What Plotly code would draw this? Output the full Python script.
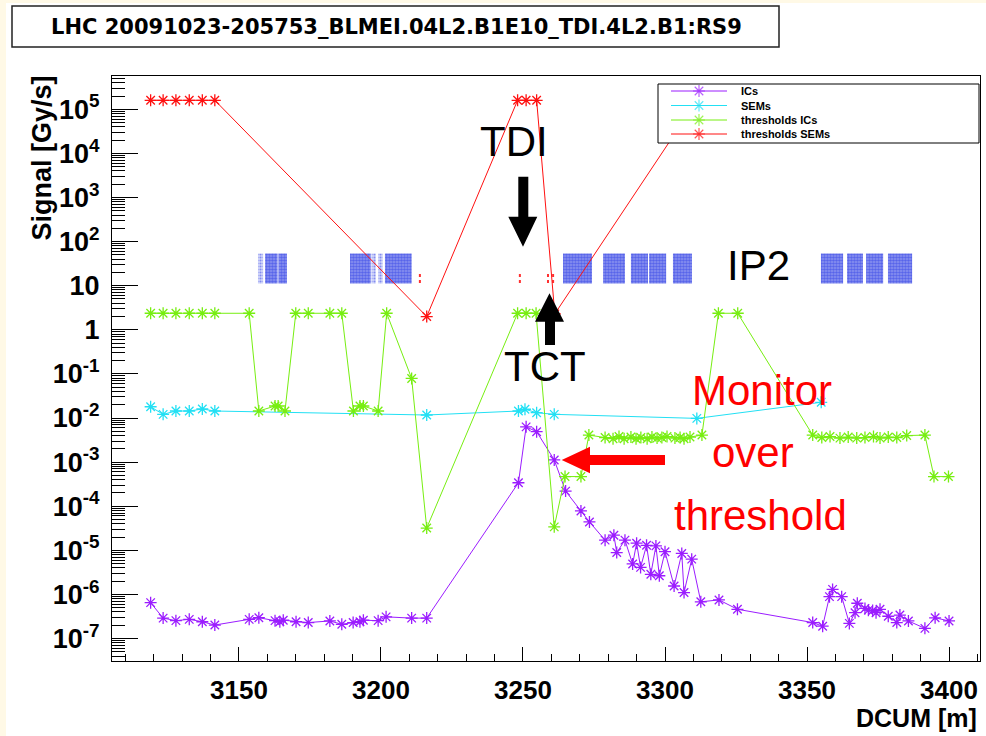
import plotly.graph_objects as go

# ---------------- data ----------------
ics_x = [3118.9, 3123.3, 3127.8, 3132.5, 3137.1, 3141.5, 3153.6, 3157.0, 3162.7, 3164.4,
         3165.6, 3170.1, 3174.4, 3182.0, 3186.2, 3190.2, 3192.6, 3193.8, 3199.0, 3201.8,
         3210.8, 3216.1, 3248.4, 3251.1, 3254.8, 3261.0, 3265.0, 3270.4, 3273.4, 3278.9,
         3282.0, 3283.0, 3285.9, 3288.6, 3290.0, 3291.4, 3293.5, 3295.0, 3296.8, 3298.0,
         3300.0, 3303.2, 3305.9, 3306.7, 3309.4, 3312.6, 3319.0, 3325.5, 3352.0, 3355.5,
         3357.9, 3359.0, 3362.2, 3364.9, 3366.9, 3367.7, 3370.4, 3371.6, 3373.1, 3374.3,
         3375.7, 3378.6, 3381.6, 3382.7, 3385.7, 3391.5, 3395.1, 3400.0]
ics_y = [6.5e-7, 2.9e-7, 2.54e-7, 2.72e-7, 2.4e-7, 2.02e-7, 2.72e-7, 2.96e-7, 2.54e-7, 2.4e-7,
         2.6e-7, 2.4e-7, 2.3e-7, 2.5e-7, 2.1e-7, 2.3e-7, 2.4e-7, 2.6e-7, 2.54e-7, 3.1e-7,
         2.9e-7, 2.9e-7, 3.4e-4, 6.3e-3, 4.9e-3, 1.12e-3, 2.2e-4, 7.8e-5, 4.4e-5, 1.7e-5,
         2.2e-5, 8.9e-6, 1.7e-5, 4.9e-6, 1.45e-5, 4.1e-6, 1.3e-5, 2.86e-6, 1.26e-5, 2.65e-6,
         9.3e-6, 1.55e-6, 8.5e-6, 1.1e-6, 6.3e-6, 6.8e-7, 7.5e-7, 4.6e-7, 2.3e-7, 1.9e-7,
         8.9e-7, 1.3e-6, 8.9e-7, 2.2e-7, 3.85e-7, 6.3e-7, 4.8e-7, 4.4e-7, 4.3e-7, 3.85e-7,
         4.6e-7, 3.2e-7, 2.3e-7, 3.4e-7, 2.5e-7, 1.7e-7, 2.95e-7, 2.5e-7]

sems_x = [3118.9, 3123.3, 3127.8, 3132.5, 3137.1, 3141.5, 3216.1, 3248.4, 3250.7, 3254.8,
          3261.0, 3311.2, 3355.0]
sems_y = [0.018, 0.0121, 0.0144, 0.0144, 0.016, 0.0144, 0.0117, 0.0144, 0.0158, 0.0132,
          0.0121, 0.0098, 0.0227]

thr_ics_x = [3118.9, 3123.3, 3127.8, 3132.5, 3137.1, 3141.5,
             3153.6, 3157.0, 3162.7, 3163.8, 3166.2,
             3170.0, 3174.4, 3182.0, 3186.2,
             3190.3, 3192.6, 3193.8, 3199.0,
             3202.0, 3210.8, 3216.1,
             3248.1, 3251.1, 3254.6,
             3261.0, 3264.8, 3270.4,
             3273.2, 3278.9, 3281.7, 3283.8, 3285.6, 3288.0, 3289.8, 3291.5, 3293.7,
             3295.4, 3297.2, 3298.9, 3300.7, 3303.5, 3305.3, 3306.7, 3308.8, 3313.0,
             3318.8, 3325.6,
             3352.0, 3355.2, 3358.1, 3361.6, 3364.5, 3367.5, 3370.4, 3373.4, 3375.7,
             3378.6, 3381.6, 3385.1, 3391.5,
             3394.7, 3399.8]
thr_ics_y = [2.37, 2.37, 2.37, 2.37, 2.37, 2.37,
             2.37, 0.0144, 0.0187, 0.0187, 0.0144,
             2.37, 2.37, 2.37, 2.37,
             0.0144, 0.0187, 0.0187, 0.0144,
             2.37, 0.079, 3.2e-5,
             2.37, 2.37, 2.37,
             3.4e-5, 4.7e-4, 4.7e-4,
             4.1e-3, 3.6e-3, 3.4e-3, 3.8e-3, 3.4e-3, 3.7e-3, 3.4e-3, 3.6e-3, 3.4e-3,
             3.7e-3, 3.5e-3, 3.6e-3, 3.8e-3, 3.5e-3, 3.6e-3, 3.4e-3, 3.7e-3, 4.1e-3,
             2.37, 2.37,
             4.1e-3, 3.6e-3, 3.8e-3, 3.5e-3, 3.7e-3, 3.5e-3, 3.6e-3, 3.8e-3, 3.5e-3,
             3.7e-3, 3.6e-3, 4.0e-3, 4.1e-3,
             4.7e-4, 4.7e-4]

thr_sems_x = [3118.9, 3123.3, 3127.8, 3132.5, 3137.1, 3141.5, 3216.1, 3248.1, 3251.1, 3254.8,
              3261.2, 3311.3, 3330.0, 3360.0, 3390.0]
thr_sems_y = [1.6e5, 1.6e5, 1.6e5, 1.6e5, 1.6e5, 1.6e5, 2.0, 1.6e5, 1.6e5, 1.6e5,
              2.3, 1.6e5, 1.6e5, 1.6e5, 1.6e5]

# element blocks drawn around IP2 (DCUM start/end, signal low/high)
block_start = [3159.2, 3163.9, 3189.1, 3201.4, 3264.1, 3278.2, 3288.0, 3294.4, 3302.8,
               3354.9, 3364.1, 3370.8, 3378.5]
block_end = [3163.6, 3166.9, 3196.4, 3210.8, 3274.3, 3285.9, 3294.0, 3300.4, 3309.5,
             3362.7, 3369.7, 3376.8, 3387.0]
light_block_start = [3156.7, 3196.7, 3199.0]
light_block_end = [3158.5, 3198.2, 3200.6]
block_low = 11.2
block_high = 54.0
red_mark_x = [3213.7, 3248.9, 3258.8, 3260.6]
red_mark_low = 11.5
red_mark_high = 21.5

x_tick_vals = [3150, 3200, 3250, 3300, 3350, 3400]
y_tick_vals = [1e-7, 1e-6, 1e-5, 1e-4, 1e-3, 1e-2, 1e-1, 1, 10, 1e2, 1e3, 1e4, 1e5]
y_tick_text = ["10<sup>-7</sup>", "10<sup>-6</sup>", "10<sup>-5</sup>", "10<sup>-4</sup>",
               "10<sup>-3</sup>", "10<sup>-2</sup>", "10<sup>-1</sup>", "1", "10",
               "10<sup>2</sup>", "10<sup>3</sup>", "10<sup>4</sup>", "10<sup>5</sup>"]
y_minor_vals = [k * 10.0 ** n for n in range(-8, 6) for k in range(2, 10)]

series_names = ["ICs", "SEMs", "thresholds ICs", "thresholds SEMs"]
series_colors = ["#9B1CFF", "#22E0F4", "#77EE11", "#FF1010"]

# ---------------- layout geometry ----------------
W, H = 986, 736
L, R, T, B = 112, 980, 76, 661


def P(px):
    return (px - L) / (R - L)


def Q(py):
    return (B - py) / (B - T)


def rect_poly(x0s, x1s, lo, hi):
    xs, ys = [], []
    for a, b in zip(x0s, x1s):
        xs += [a, b, b, a, a, None]
        ys += [lo, lo, hi, hi, lo, None]
    return xs, ys


fig = go.Figure()

bx, by = rect_poly(block_start, block_end, block_low, block_high)
fig.add_trace(go.Scatter(x=bx, y=by, mode="lines", fill="toself", line=dict(width=0),
                         fillcolor="rgba(80,90,236,0.9)",
                         fillpattern=dict(shape=".", fgcolor="#2232E4", bgcolor="#8E97F0",
                                          size=3, solidity=0.6),
                         hoverinfo="skip", showlegend=False))
lx, ly = rect_poly(light_block_start, light_block_end, block_low, block_high)
fig.add_trace(go.Scatter(x=lx, y=ly, mode="lines", fill="toself", line=dict(width=0),
                         fillcolor="rgba(70,82,235,0.4)",
                         fillpattern=dict(shape=".", fgcolor="#3040E6", bgcolor="#D4D8FA",
                                          size=3, solidity=0.4),
                         hoverinfo="skip", showlegend=False))
rx, ry = [], []
for xm in red_mark_x:
    rx += [xm, xm, None]
    ry += [red_mark_low, red_mark_high, None]
fig.add_trace(go.Scatter(x=rx, y=ry, mode="lines", line=dict(color="#FF3030", width=2, dash="dot"),
                         hoverinfo="skip", showlegend=False))

all_x = [ics_x, sems_x, thr_ics_x, thr_sems_x]
all_y = [ics_y, sems_y, thr_ics_y, thr_sems_y]
for name, c, xs, ys in zip(series_names, series_colors, all_x, all_y):
    fig.add_trace(go.Scatter(
        x=xs, y=ys, mode="lines+markers", name=name,
        line=dict(color=c, width=1),
        marker=dict(symbol="asterisk-open", size=10, color=c, line=dict(color=c, width=1.3)),
        showlegend=False))

# ---- manual legend on an overlay subplot (so its box hides the curves) ----
lg_x0, lg_x1, lg_y0, lg_y1 = P(658), P(979), Q(143), Q(84)
fig.add_trace(go.Scatter(x=[lg_x0, lg_x1, lg_x1, lg_x0, lg_x0], y=[lg_y0, lg_y0, lg_y1, lg_y1, lg_y0],
                         mode="lines", fill="toself", fillcolor="white", line=dict(color="black", width=1),
                         xaxis="x2", yaxis="y2", hoverinfo="skip", showlegend=False))
entry_py = [91, 105.5, 120, 134]
annotations = []
for name, c, py in zip(series_names, series_colors, entry_py):
    fig.add_trace(go.Scatter(x=[P(671), P(699), P(727)], y=[Q(py)] * 3, mode="lines+markers",
                             line=dict(color=c, width=1),
                             marker=dict(symbol="asterisk-open", size=[0, 10, 0], color=c,
                                         line=dict(color=c, width=1.2)),
                             xaxis="x2", yaxis="y2", hoverinfo="skip", showlegend=False))
    annotations.append(dict(x=P(739), y=Q(py), xref="paper", yref="paper", text="<b>%s</b>" % name,
                            showarrow=False, xanchor="left", yanchor="middle",
                            font=dict(family="Liberation Sans", size=11, color="black")))

big = dict(family="Liberation Sans", size=42, color="black")
red_big = dict(family="Liberation Sans", size=42, color="#FF0000")
for txt, px, py, f in [("TDI", 513.5, 141, big), ("TCT", 544.5, 366, big), ("IP2", 758, 265, big),
                       ("Monitor", 761.7, 390, red_big), ("over", 753, 453, red_big),
                       ("threshold", 760, 515, red_big)]:
    annotations.append(dict(x=P(px), y=Q(py), xref="paper", yref="paper", text=txt, showarrow=False,
                            xanchor="center", yanchor="middle", font=f))

annotations.append(dict(x=P(396), y=Q(27), xref="paper", yref="paper",
                        text="<b>LHC 20091023-205753_BLMEI.04L2.B1E10_TDI.4L2.B1:RS9</b>",
                        showarrow=False, xanchor="center", yanchor="middle",
                        font=dict(family="DejaVu Sans", size=21, color="black")))
annotations.append(dict(x=P(41), y=Q(74), xref="paper", yref="paper", text="<b>Signal [Gy/s]</b>",
                        textangle=-90, showarrow=False, xanchor="center", yanchor="top",
                        font=dict(family="Liberation Sans", size=27, color="black")))
annotations.append(dict(x=P(979), y=Q(718), xref="paper", yref="paper", text="<b>DCUM [m]</b>",
                        showarrow=False, xanchor="right", yanchor="middle",
                        font=dict(family="Liberation Sans", size=25, color="black")))


def px_path(points):
    return "M " + " L ".join("%.5f,%.5f" % (P(x), Q(y)) for x, y in points) + " Z"


shapes = [
    dict(type="rect", xref="paper", yref="paper", x0=P(6), x1=P(986), y0=Q(736), y1=Q(3),
         fillcolor="white", line=dict(width=0), layer="below"),
    dict(type="rect", xref="paper", yref="paper", x0=P(12), x1=P(779), y0=Q(47), y1=Q(6),
         fillcolor="white", line=dict(color="#222222", width=1.5), layer="below"),
    dict(type="path", xref="paper", yref="paper", fillcolor="black", line=dict(width=0),
         path=px_path([(518.3, 176.7), (528.3, 176.7), (528.3, 216.7), (537.3, 216.7), (523, 246.7),
                       (508.3, 216.7), (518.3, 216.7)])),
    dict(type="path", xref="paper", yref="paper", fillcolor="black", line=dict(width=0),
         path=px_path([(545, 345), (555, 345), (555, 321.7), (564, 321.7), (549.5, 293.3),
                       (535, 321.7), (545, 321.7)])),
    dict(type="path", xref="paper", yref="paper", fillcolor="#FF0000", line=dict(width=0),
         path=px_path([(665, 455), (665, 465), (590, 465), (590, 473.3), (561.7, 460),
                       (590, 446.7), (590, 455)])),
]

fig.update_layout(
    width=W, height=H,
    margin=dict(l=L, r=W - R, t=T, b=H - B, autoexpand=False),
    paper_bgcolor="#FFF9E6", plot_bgcolor="white",
    showlegend=False,
    annotations=annotations, shapes=shapes,
    xaxis=dict(range=[3105.3, 3410.9], tickvals=x_tick_vals, ticks="inside", ticklen=14,
               tickcolor="black", showline=True, linecolor="black", linewidth=1, mirror=True,
               showgrid=False, zeroline=False, ticklabelstandoff=6, automargin=False,
               tickfont=dict(family="Liberation Sans", size=26, color="black", weight="bold"),
               minor=dict(dtick=10, tick0=3150, ticks="inside", ticklen=7, tickcolor="black",
                          showgrid=False)),
    yaxis=dict(type="log", range=[-7.51, 5.755], tickvals=y_tick_vals, ticktext=y_tick_text,
               ticks="inside", ticklen=26, tickcolor="black", showline=True, linecolor="black",
               linewidth=1, mirror=True, showgrid=False, zeroline=False, ticklabelstandoff=6,
               automargin=False,
               tickfont=dict(family="Liberation Sans", size=27, color="black", weight="bold"),
               minor=dict(tickvals=y_minor_vals, ticks="inside", ticklen=13, tickcolor="black",
                          showgrid=False)),
    xaxis2=dict(overlaying="x", anchor="y2", range=[0, 1], visible=False),
    yaxis2=dict(overlaying="y", anchor="x2", range=[0, 1], visible=False),
)

fig.write_html("out.html", config={"displayModeBar": False},
               post_script="document.body.style.margin='0px';")
